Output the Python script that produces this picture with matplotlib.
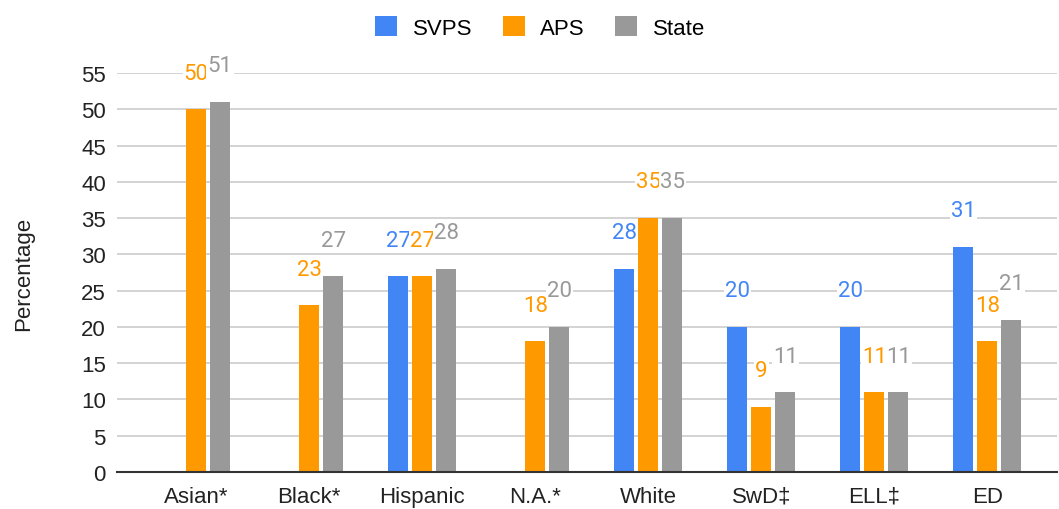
import numpy as np
import matplotlib.pyplot as plt
from matplotlib.patches import Patch

plt.rcParams["font.family"] = ["Liberation Sans", "DejaVu Sans"]

categories = ["Asian*", "Black*", "Hispanic", "N.A.*", "White", "SwD‡", "ELL‡", "ED"]
svps = [np.nan, np.nan, 27, np.nan, 28, 20, 20, 31]
aps = [50, 23, 27, 18, 35, 9, 11, 18]
state = [51, 27, 28, 20, 35, 11, 11, 21]
series_names = ["SVPS", "APS", "State"]

colors = ["#4285F4", "#FF9900", "#999999"]

fig = plt.figure(figsize=(10.59, 5.10), dpi=100)
ax = fig.add_axes([0.1105, 0.0725, 0.888, 0.7825])

x = np.arange(len(categories))
width = 0.177
step = 0.212

for i, (vals, col) in enumerate(zip([svps, aps, state], colors)):
    pos = x + (i - 1) * step
    ax.bar(pos, vals, width=width, color=col, zorder=3)
    # value labels above the bars, white box hides the gridline behind
    for px, v in zip(pos, vals):
        if np.isnan(v):
            continue
        ax.annotate(str(int(v)), (px, v), xytext=(0, 26), textcoords="offset points",
                    ha="center", va="center", fontsize=16, color=col, zorder=4,
                    family=["Roboto", "DejaVu Sans"], annotation_clip=False,
                    bbox=dict(boxstyle="square,pad=0.05", fc="white", ec="none"))

ax.set_ylim(0, 55)
ax.set_xlim(-0.7, 7.62)
ax.set_yticks(range(0, 56, 5))
ax.set_xticks(x)
ax.set_xticklabels(categories, fontsize=16, color="#222222")
ax.tick_params(axis="y", labelsize=16, labelcolor="#222222", length=0, pad=8)
ax.tick_params(axis="x", length=0, pad=10)
ax.grid(axis="y", color="#cccccc", linewidth=1.2, zorder=0)
for s in ["top", "right", "left"]:
    ax.spines[s].set_visible(False)
ax.spines["bottom"].set_color("#333333")
ax.spines["bottom"].set_linewidth(1.5)
ax.spines["bottom"].set_zorder(5)

ax.set_ylabel("Percentage", fontsize=16, color="#222222")
ax.yaxis.set_label_coords(-0.088, 0.5)

handles = [Patch(facecolor=c, edgecolor="none") for c in colors]
fig.legend(handles, series_names, loc="upper center", bbox_to_anchor=(0.51, 1.005),
           ncol=3, frameon=False, fontsize=16, handlelength=1.0, handleheight=1.0,
           columnspacing=1.35, handletextpad=0.7)

fig.savefig("out.png", dpi=100)
